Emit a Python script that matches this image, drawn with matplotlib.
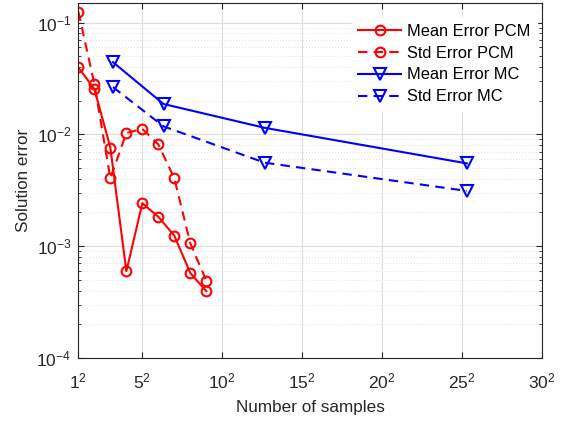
import numpy as np
import matplotlib
matplotlib.use("Agg")
import matplotlib.pyplot as plt

# Sample counts (perfect squares for PCM, x4 sequence for MC)
n_pcm = [1, 4, 9, 16, 25, 36, 49, 64, 81]
mean_pcm = [0.0397, 0.0255, 0.0076, 0.000595, 0.00242, 0.00183, 0.00124, 0.000575, 0.000395]
std_pcm = [0.125, 0.0282, 0.00404, 0.0103, 0.0112, 0.00813, 0.00404, 0.00106, 0.00049]

n_mc = [10, 40, 160, 640]
mean_mc = [0.0443, 0.0187, 0.01145, 0.0055]
std_mc = [0.0265, 0.0118, 0.00558, 0.00312]

tick_roots = [1, 5, 10, 15, 20, 25, 30]
tick_labels = [f"${r}^2$" for r in tick_roots]

plt.rcParams.update({
    "font.family": ["Liberation Sans", "DejaVu Sans"],
    "mathtext.fontset": "custom",
    "mathtext.rm": "Liberation Sans",
    "mathtext.it": "Liberation Sans",
    "xtick.direction": "in",
    "ytick.direction": "in",
})

fig = plt.figure(figsize=(5.64, 4.25), dpi=100)
ax = fig.add_axes([0.139, 0.158, 0.822, 0.835])

red = "#ff0000"
blue = "#0000ff"
dash = (0, (4.5, 3))

# x axis is linear in sqrt(number of samples)
ax.plot(np.sqrt(n_pcm), mean_pcm, "-", color=red, lw=1.5, marker="o",
        ms=7, mfc="none", mew=1.5, label="Mean Error PCM")
ax.plot(np.sqrt(n_pcm), std_pcm, linestyle=dash, color=red, lw=1.5, marker="o",
        ms=7, mfc="none", mew=1.5, label="Std Error PCM")
ax.plot(np.sqrt(n_mc), mean_mc, "-", color=blue, lw=1.5, marker="v",
        ms=8, mfc="none", mew=1.5, label="Mean Error MC")
ax.plot(np.sqrt(n_mc), std_mc, linestyle=dash, color=blue, lw=1.5, marker="v",
        ms=8, mfc="none", mew=1.5, label="Std Error MC")

ax.set_yscale("log")
ax.set_ylim(1e-4, 0.15)
ax.set_xlim(1, 30)
ax.set_xticks(tick_roots)
ax.set_xticklabels(tick_labels)
ax.tick_params(labelsize=12.5, colors="#262626", top=True, right=True, which="both")
ax.tick_params(axis="x", pad=10)
ax.tick_params(axis="y", pad=5)
ax.tick_params(which="minor", length=2.5)
ax.tick_params(which="major", length=4)

ax.grid(True, which="major", color="#dcdcdc", lw=0.8)
ax.grid(True, which="minor", axis="y", color="#e0e0e0", lw=0.7, linestyle=(0, (1, 2)))
ax.set_axisbelow(True)
for s in ax.spines.values():
    s.set_color("#262626")
    s.set_linewidth(0.8)

ax.set_xlabel("Number of samples", fontsize=12.3, color="#262626", labelpad=6)
ax.set_ylabel("Solution error", fontsize=12.3, color="#262626", labelpad=4)

leg = ax.legend(loc="upper right", bbox_to_anchor=(0.99, 0.96), fontsize=11.8,
                frameon=True, fancybox=False, edgecolor="white", framealpha=1,
                handlelength=2.6, borderaxespad=0, labelspacing=0.42,
                handletextpad=0.4)

fig.savefig("out.png", dpi=100)
